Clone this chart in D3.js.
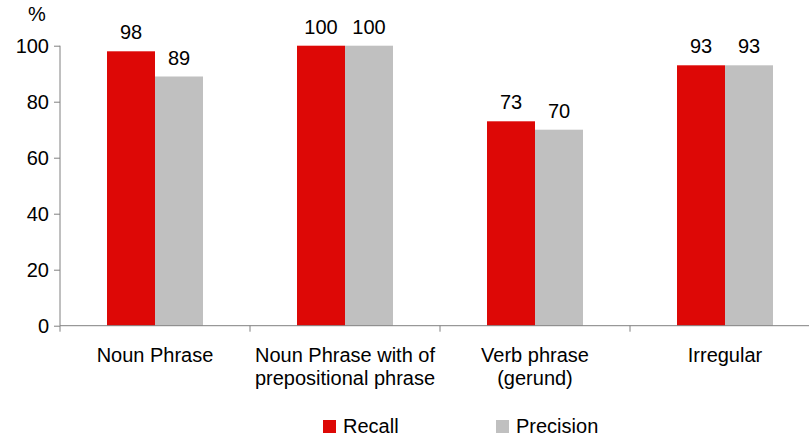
<!DOCTYPE html>
<html>
<head>
<meta charset="utf-8">
<script src="https://cdn.jsdelivr.net/npm/d3@7"></script>
<style>
  body { margin: 0; background: #fff; }
  text { font-family: "Liberation Sans", Arial, sans-serif; fill: #000; }
</style>
</head>
<body>
<div id="chart"></div>
<script>
// data
var categories = [
  ["Noun Phrase"],
  ["Noun Phrase with of", "prepositional phrase"],
  ["Verb phrase", "(gerund)"],
  ["Irregular"]
];
var seriesNames = ["Recall", "Precision"];
var recall = [98, 100, 73, 93];
var precision = [89, 100, 70, 93];
var yTicks = [0, 20, 40, 60, 80, 100];
var colors = ["#DD0806", "#C0C0C0"];

var svgWidth = 809;
var svgHeight = 440;
var fontSize = "20px";

var svg = d3.select("#chart")
  .append("svg")
  .attr("width", svgWidth)
  .attr("height", svgHeight);

var keys = categories.map((c, i) => i);

var x0 = d3.scaleBand()
  .domain(keys)
  .range([60, 820]);

var x1 = d3.scaleBand()
  .domain(seriesNames)
  .range([x0.bandwidth() / 2 - 48, x0.bandwidth() / 2 + 48]);

var y = d3.scaleLinear()
  .domain([0, 100])
  .range([325.7, 45.7]);

// y axis
var yAxis = svg.append("g")
  .attr("transform", "translate(60,0)")
  .call(d3.axisLeft(y).tickValues(yTicks).tickSize(6).tickPadding(5));
yAxis.select(".domain").attr("stroke", "#808080").attr("d", `M0,${y(100)}V${y(0)}`);
yAxis.selectAll(".tick line").attr("stroke", "#808080");
yAxis.selectAll(".tick text")
  .attr("font-size", fontSize)
  .attr("font-family", "'Liberation Sans', Arial, sans-serif")
  .attr("fill", "#000");

svg.append("text")
  .attr("x", 37)
  .attr("y", 21)
  .attr("text-anchor", "middle")
  .attr("font-size", fontSize)
  .text("%");

// bars
var rows = keys.map(i => ({ i: i, values: [recall[i], precision[i]] }));

var groups = svg.selectAll(".group")
  .data(rows)
  .enter()
  .append("g")
  .attr("class", "group")
  .attr("transform", d => `translate(${x0(d.i)},0)`);

groups.selectAll("rect")
  .data(d => d.values.map((v, j) => ({ name: seriesNames[j], value: v, j: j })))
  .enter()
  .append("rect")
  .attr("x", d => x1(d.name))
  .attr("y", d => y(d.value))
  .attr("width", x1.bandwidth())
  .attr("height", d => y(0) - y(d.value))
  .attr("fill", d => colors[d.j]);

groups.selectAll(".val")
  .data(d => d.values.map((v, j) => ({ name: seriesNames[j], value: v })))
  .enter()
  .append("text")
  .attr("class", "val")
  .attr("x", d => x1(d.name) + x1.bandwidth() / 2)
  .attr("y", d => y(d.value) - 12)
  .attr("text-anchor", "middle")
  .attr("font-size", fontSize)
  .text(d => d.value);

// x axis
var xAxisG = svg.append("g");
xAxisG.append("line")
  .attr("x1", 60).attr("x2", svgWidth)
  .attr("y1", y(0)).attr("y2", y(0))
  .attr("stroke", "#808080");
xAxisG.selectAll(".xtick")
  .data(keys.concat([keys.length]))
  .enter()
  .append("line")
  .attr("x1", d => d < keys.length ? x0(d) : 820)
  .attr("x2", d => d < keys.length ? x0(d) : 820)
  .attr("y1", y(0))
  .attr("y2", y(0) + 6)
  .attr("stroke", "#808080");

xAxisG.selectAll(".xlabel")
  .data(keys)
  .enter()
  .append("text")
  .attr("class", "xlabel")
  .attr("x", d => x0(d) + x0.bandwidth() / 2)
  .attr("y", 362)
  .attr("text-anchor", "middle")
  .attr("font-size", fontSize)
  .each(function(d) {
    var t = d3.select(this);
    categories[d].forEach((line, k) => {
      t.append("tspan")
        .attr("x", x0(d) + x0.bandwidth() / 2)
        .attr("dy", k === 0 ? 0 : 23)
        .text(line);
    });
  });

// legend
var legendX = [323, 496];
var legend = svg.selectAll(".legend")
  .data(seriesNames)
  .enter()
  .append("g")
  .attr("class", "legend")
  .attr("transform", (d, i) => `translate(${legendX[i]},420)`);

legend.append("rect")
  .attr("width", 13)
  .attr("height", 13)
  .attr("fill", (d, i) => colors[i]);

legend.append("text")
  .attr("x", 20)
  .attr("y", 13)
  .attr("font-size", fontSize)
  .text(d => d);
</script>
</body>
</html>
